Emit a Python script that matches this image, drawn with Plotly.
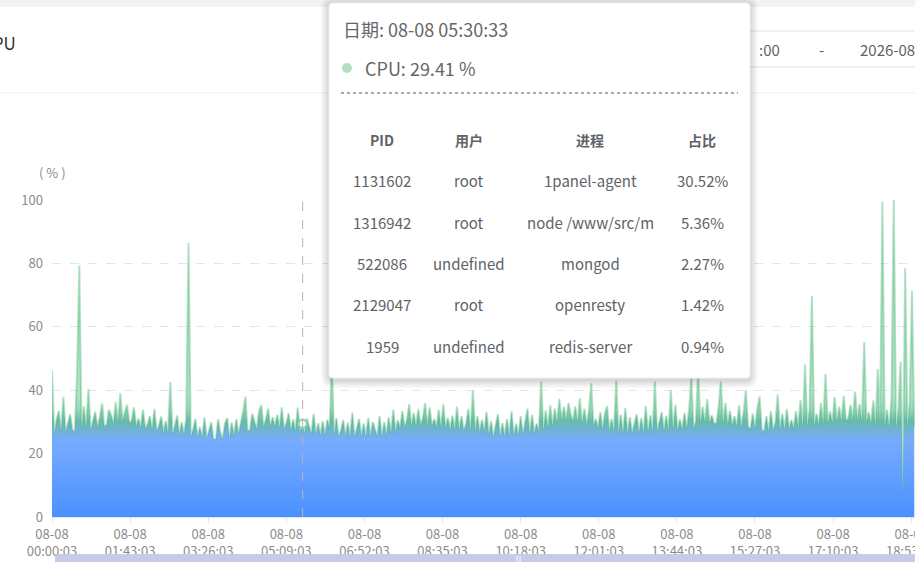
import pandas as pd
import plotly.graph_objects as go

# CPU usage samples (%), one every 3 minutes from 08-08 00:00:03
cpu_values = [
    # 00h
    46.1, 26.3, 30.8, 33.5, 27.2, 37.9, 26.8, 29.4, 32.4, 27.5, 26.9, 44.8, 79.3, 27.7, 34.9, 28.1, 40.4, 27.4, 30.6, 33.2,
    # 01h
    28.3, 31.4, 35.8, 28.6, 29.1, 33.9, 32.1, 29.4, 36.2, 29.8, 39.0, 30.2, 33.1, 35.4, 29.7, 30.3, 34.6, 28.6, 31.0, 28.3,
    # 02h
    33.9, 27.9, 29.2, 31.8, 27.6, 34.1, 27.2, 28.9, 31.7, 26.6, 30.3, 26.4, 42.6, 26.2, 28.8, 32.0, 26.0, 29.9, 25.9, 31.2,
    # 03h
    86.4, 25.4, 27.6, 30.9, 25.2, 28.4, 25.0, 31.4, 24.8, 27.7, 29.9, 24.6, 24.5, 30.8, 26.6, 24.6, 29.5, 31.2, 25.0, 29.8,
    # 04h
    25.7, 30.9, 26.3, 29.7, 33.2, 38.0, 27.0, 27.5, 32.6, 30.1, 27.8, 33.4, 35.3, 28.3, 30.8, 34.2, 28.6, 31.5, 28.5, 32.3,
    # 05h
    28.2, 34.6, 27.8, 29.5, 32.7, 27.4, 30.8, 27.1, 34.5, 26.9, 29.4, 26.5, 31.1, 28.7, 26.3, 32.5, 26.1, 29.6, 25.9, 30.2,
    # 06h
    25.8, 30.7, 28.4, 48.0, 25.6, 31.2, 25.5, 27.4, 30.6, 25.4, 29.8, 25.3, 32.9, 25.2, 28.3, 30.9, 25.3, 29.5, 25.3, 31.3,
    # 07h
    25.4, 30.0, 27.7, 25.4, 31.8, 25.3, 29.9, 25.8, 31.4, 26.4, 33.9, 27.0, 30.6, 28.0, 33.4, 28.3, 30.7, 35.6, 28.6, 32.8,
    # 08h
    28.7, 34.1, 29.0, 31.2, 35.9, 28.9, 34.6, 28.7, 30.9, 28.5, 33.8, 28.2, 35.5, 28.0, 31.3, 27.5, 32.0, 27.6, 34.8, 27.4,
    # 09h
    31.9, 27.3, 29.4, 34.1, 27.2, 40.0, 27.1, 31.8, 27.0, 30.7, 26.9, 33.2, 26.0, 30.2, 25.3, 28.8, 32.5, 25.4, 29.6, 25.5,
    # 10h
    30.9, 25.6, 33.3, 25.7, 29.4, 25.8, 31.8, 26.0, 30.9, 34.2, 26.2, 32.2, 26.5, 29.5, 27.1, 42.7, 27.4, 33.6, 28.1, 35.2,
    # 11h
    28.8, 34.2, 29.8, 37.3, 30.6, 34.8, 30.5, 36.0, 32.3, 30.3, 34.9, 30.0, 37.4, 29.6, 34.2, 29.2, 33.6, 42.2, 28.7, 31.0,
    # 12h
    28.0, 33.1, 27.7, 32.6, 35.0, 27.2, 30.9, 26.9, 43.0, 26.6, 32.3, 26.4, 34.4, 26.4, 31.5, 26.5, 29.4, 32.4, 26.6, 31.2,
    # 13h
    26.7, 35.0, 26.8, 32.1, 27.0, 42.7, 27.1, 30.1, 33.1, 27.1, 32.0, 27.2, 40.0, 27.3, 35.4, 27.4, 30.8, 27.7, 32.8, 27.9,
    # 14h
    33.6, 44.0, 28.1, 30.0, 46.0, 29.9, 34.8, 29.8, 37.2, 29.7, 32.1, 29.6, 29.5, 34.7, 42.7, 29.3, 36.0, 29.2, 33.5, 29.0,
    # 15h
    31.8, 28.6, 35.2, 28.5, 33.2, 40.0, 28.3, 28.0, 32.6, 27.8, 34.1, 38.0, 27.5, 27.0, 31.8, 27.1, 33.4, 27.3, 29.9, 38.7,
    # 16h
    27.4, 32.5, 27.6, 34.1, 27.8, 30.7, 28.0, 33.4, 28.2, 36.9, 28.4, 48.2, 28.6, 34.2, 69.8, 28.8, 32.6, 29.0, 35.9, 29.2,
    # 17h
    45.2, 29.5, 33.3, 29.8, 37.8, 30.1, 34.8, 30.3, 38.2, 30.5, 31.0, 35.4, 30.8, 39.6, 30.7, 35.7, 30.2, 55.2, 29.8, 33.1,
    # 18h
    29.4, 36.8, 28.9, 46.7, 28.7, 99.5, 28.6, 33.9, 28.4, 37.2, 100.0, 28.2, 33.7, 49.0, 8.5, 78.5, 28.3, 36.1, 71.3, 28.5,
]
start_time = "2026-08-08 00:00:03"
times = pd.date_range(start_time, periods=len(cpu_values), freq="3min")

# x-axis labels every 1h43m
tick_times = pd.date_range(start_time, periods=12, freq="103min")
tick_text = [t.strftime("%m-%d<br>%H:%M:%S") for t in tick_times]
y_ticks = [0, 20, 40, 60, 80, 100]

# hovered point and its tooltip
hover_time = "2026-08-08 05:30:33"
hover_cpu = 29.41
top_pid = ["1131602", "1316942", "522086", "2129047", "1959"]
top_user = ["root", "root", "undefined", "root", "undefined"]
top_name = ["1panel-agent", "node /www/src/m", "mongod", "openresty", "redis-server"]
top_percent = ["30.52%", "5.36%", "2.27%", "1.42%", "0.94%"]
table_head = ["PID", "用户", "进程", "占比"]

FONT = "Noto Sans CJK SC, Noto Sans, sans-serif"
W, H = 915, 562
L, T, B = 52, 200, 45
PW, PH = W - L, H - T - B


def px(x):
    return (x - L) / PW


def py(y):
    return (H - B - y) / PH


def rrect(x0, y0, x1, y1, r):
    pts = [("M", x0 + r, y0), ("L", x1 - r, y0), ("Q", x1, y0, x1, y0 + r),
           ("L", x1, y1 - r), ("Q", x1, y1, x1 - r, y1), ("L", x0 + r, y1),
           ("Q", x0, y1, x0, y1 - r), ("L", x0, y0 + r), ("Q", x0, y0, x0 + r, y0)]
    out = ""
    for p in pts:
        cmd, nums = p[0], p[1:]
        coords = []
        for i in range(0, len(nums), 2):
            coords.append(f"{px(nums[i]):.5f},{py(nums[i + 1]):.5f}")
        out += cmd + " ".join(coords) + " "
    return out + "Z"


# blue area, turning green where the dense line band sits
area_scale = [
    [0.0, "rgb(74,145,255)"],
    [0.63, "rgb(120,171,255)"],
    [0.71, "rgb(112,178,215)"],
    [0.79, "rgb(105,186,172)"],
    [0.89, "rgb(155,214,186)"],
    [1.0, "rgb(178,226,198)"],
]

fig = go.Figure()
fig.add_trace(go.Scatter(
    x=times, y=cpu_values, mode="lines",
    line=dict(color="rgba(80,185,125,0.42)", width=2.0),
    fill="tozeroy",
    fillgradient=dict(type="vertical", colorscale=area_scale, start=0, stop=38),
    hoverinfo="skip", showlegend=False,
))
fig.add_trace(go.Scatter(
    x=[hover_time], y=[hover_cpu], mode="markers",
    marker=dict(size=8, color="white", line=dict(color="#8fd3a8", width=2)),
    hoverinfo="skip", showlegend=False,
))

shapes = []
# page / card decorations
shapes.append(dict(type="rect", xref="paper", yref="paper", x0=px(0), x1=px(W), y0=py(0), y1=py(7),
                   fillcolor="#f0f2f5", line_width=0, layer="above"))
shapes.append(dict(type="line", xref="paper", yref="paper", x0=px(0), x1=px(W), y0=py(93), y1=py(93),
                   line=dict(color="#ebeef5", width=1), layer="above"))
shapes.append(dict(type="path", xref="paper", yref="paper", path=rrect(735, 31, 930, 67, 4),
                   line=dict(color="#dcdfe6", width=1), fillcolor="rgba(0,0,0,0)", layer="above"))
# data zoom bar
shapes.append(dict(type="rect", xref="paper", yref="paper", x0=px(55), x1=px(W), y0=py(554), y1=py(566),
                   fillcolor="#c6cbe8", line_width=0, layer="above"))
for hx in (517, 520):
    shapes.append(dict(type="line", xref="paper", yref="paper", x0=px(hx), x1=px(hx), y0=py(556), y1=py(562),
                       line=dict(color="white", width=1), layer="above"))
# crosshair
shapes.append(dict(type="line", xref="x", yref="paper", x0=hover_time, x1=hover_time, y0=0, y1=1,
                   line=dict(color="#b4b4bc", width=1, dash="dash"), layer="above"))
# tooltip shadow + box
for i in range(8, 0, -1):
    shapes.append(dict(type="path", xref="paper", yref="paper",
                       path=rrect(329 - i, 3 - i + 2, 750 + i, 378 + i + 2, 4 + i),
                       fillcolor="rgba(0,0,0,0.018)", line_width=0, layer="above"))
shapes.append(dict(type="path", xref="paper", yref="paper", path=rrect(329, 3, 750, 378, 4),
                   fillcolor="white", line=dict(color="#f0f0f0", width=1), layer="above"))
shapes.append(dict(type="circle", xref="paper", yref="paper", x0=px(342), x1=px(352), y0=py(63), y1=py(73),
                   fillcolor="#b1dfc2", line_width=0, layer="above"))
shapes.append(dict(type="line", xref="paper", yref="paper", x0=px(341), x1=px(738), y0=py(93), y1=py(93),
                   line=dict(color="#555555", width=1, dash="dot"), layer="above"))

annotations = []


def label(text, x, y, size=15, color="#606266", anchor="center"):
    annotations.append(dict(text=text, xref="paper", yref="paper", x=px(x), y=py(y), xanchor=anchor,
                            yanchor="middle", showarrow=False, font=dict(family=FONT, size=size, color=color)))


label("CPU", 18, 42, size=17, color="#303133", anchor="right")
label(":00", 757, 49, size=15, color="#606266", anchor="left")
label("-", 821, 49, size=15, color="#606266")
label("2026-08-08 23:59:59", 858, 49, size=15, color="#606266", anchor="left")
label("( % )", 52, 172, size=13, color="#8c8c8c")

label("日期: " + pd.Timestamp(hover_time).strftime("%m-%d %H:%M:%S"), 341, 29, size=18, color="#666666", anchor="left")
label(f"CPU: {hover_cpu} %", 363, 68, size=18, color="#666666", anchor="left")
cols = [382, 469, 590, 702]
for c, h in zip(cols, table_head):
    label(f"<b>{h}</b>", c, 140, size=14)
rows = list(zip(top_pid, top_user, top_name, top_percent))
for r, row in enumerate(rows):
    for c, v in zip(cols, row):
        label(v, c, 181 + r * 41.25, size=15)

fig.update_layout(
    width=W, height=H,
    margin=dict(l=L, r=0, t=T, b=B),
    paper_bgcolor="white", plot_bgcolor="white",
    font=dict(family=FONT, size=13, color="#8c8c8c"),
    shapes=shapes, annotations=annotations,
    xaxis=dict(
        type="date", automargin=False,
        range=[pd.Timestamp(start_time), pd.Timestamp(start_time) + pd.Timedelta(minutes=1138)],
        tickvals=tick_times, ticktext=tick_text,
        showgrid=False, showline=True, linecolor="#e0e6f1",
        ticks="outside", ticklen=5, tickcolor="#e0e6f1",
        tickfont=dict(size=13, color="#8c8c8c"),
        ticklabeloverflow="allow", fixedrange=True,
    ),
    yaxis=dict(
        range=[0, 100], tickvals=y_ticks, automargin=False,
        showgrid=True, gridcolor="#e0e6f1", griddash="dash",
        zeroline=False, showline=False, ticks="",
        tickfont=dict(size=13, color="#8c8c8c"), ticklabelstandoff=8, fixedrange=True,
    ),
)

# drop the browser's default page margin so the figure sits at the window corner
fig.write_html("out.html", config={"displayModeBar": False},
               post_script="document.body.style.margin='0';")
